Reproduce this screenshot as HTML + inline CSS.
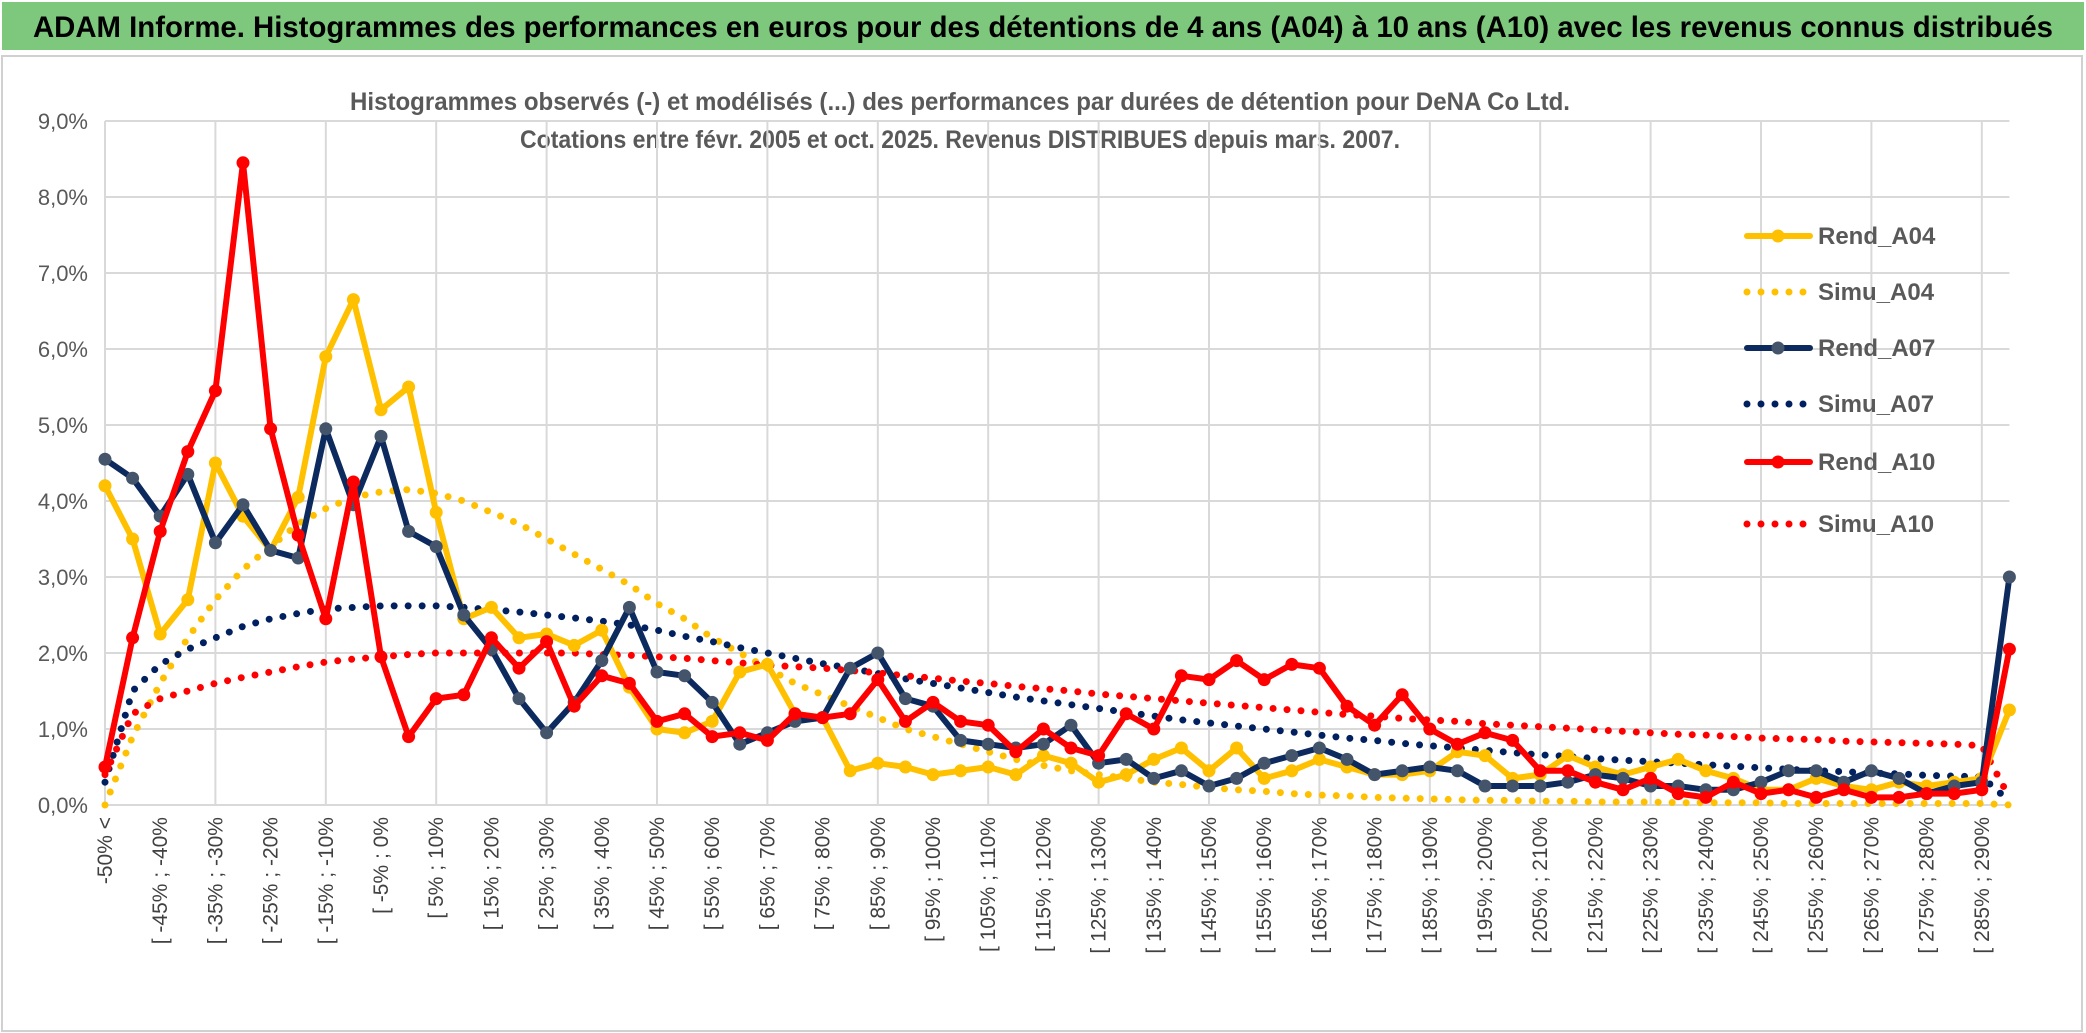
<!DOCTYPE html>
<html><head><meta charset="utf-8"><style>
html,body{margin:0;padding:0;background:#fff;}
svg{display:block;font-family:"Liberation Sans",sans-serif;}
</style></head><body>
<svg id="chart" width="2086" height="1033" viewBox="0 0 2086 1033" xmlns="http://www.w3.org/2000/svg">
<rect x="0" y="0" width="2086" height="1033" fill="#fff"/>
<rect x="2" y="2" width="2082" height="48" fill="#7ec87e"/>
<text x="1043" y="37" text-anchor="middle" font-size="30" font-weight="bold" fill="#000" textLength="2020" lengthAdjust="spacingAndGlyphs">ADAM Informe. Histogrammes des performances en euros pour des détentions de 4 ans (A04) à 10 ans (A10) avec les revenus connus distribués</text>
<rect x="2" y="56" width="2080" height="975" fill="none" stroke="#d0d0d0" stroke-width="2"/>
<text x="960" y="110" text-anchor="middle" font-size="25" font-weight="bold" fill="#595959" textLength="1220" lengthAdjust="spacingAndGlyphs">Histogrammes observés (-) et modélisés (...) des performances par durées de détention pour DeNA Co Ltd.</text>
<text x="960" y="148" text-anchor="middle" font-size="25" font-weight="bold" fill="#595959" textLength="880" lengthAdjust="spacingAndGlyphs">Cotations entre févr. 2005 et oct. 2025. Revenus DISTRIBUES depuis mars. 2007.</text>
<g id="grid"></g><g id="yticks"></g><g id="xticks"></g><g id="series"></g><g id="legend"></g>
</svg>
<script>
const categories = ["-50% <"];
for (let k = 1; k < 70; k++) categories.push("[ " + (-55 + 5*k) + "% ; " + (-50 + 5*k) + "%");
const yTickLabels = ["0,0%","1,0%","2,0%","3,0%","4,0%","5,0%","6,0%","7,0%","8,0%","9,0%"];
const rendA04 = [4.2,3.5,2.25,2.7,4.5,3.8,3.35,4.05,5.9,6.65,5.2,5.5,3.85,2.45,2.6,2.2,2.25,2.1,2.3,1.55,1.0,0.95,1.1,1.75,1.85,1.2,1.15,0.45,0.55,0.5,0.4,0.45,0.5,0.4,0.65,0.55,0.3,0.4,0.6,0.75,0.45,0.75,0.35,0.45,0.6,0.5,0.4,0.4,0.45,0.7,0.65,0.35,0.4,0.65,0.5,0.4,0.5,0.6,0.45,0.35,0.2,0.2,0.35,0.25,0.2,0.3,0.25,0.3,0.35,1.25];
const simuA04 = [0.0,0.9,1.6,2.2,2.7,3.1,3.4,3.7,3.9,4.05,4.12,4.15,4.1,4.0,3.85,3.7,3.5,3.3,3.1,2.9,2.65,2.45,2.2,2.0,1.8,1.6,1.45,1.3,1.15,1.0,0.9,0.8,0.7,0.6,0.52,0.45,0.4,0.35,0.3,0.27,0.23,0.2,0.18,0.15,0.13,0.12,0.1,0.09,0.08,0.07,0.06,0.06,0.05,0.05,0.04,0.04,0.04,0.03,0.03,0.03,0.03,0.02,0.02,0.02,0.02,0.02,0.02,0.02,0.02,0.0];
const rendA07 = [4.55,4.3,3.8,4.35,3.45,3.95,3.35,3.25,4.95,3.95,4.85,3.6,3.4,2.5,2.05,1.4,0.95,1.35,1.9,2.6,1.75,1.7,1.35,0.8,0.95,1.1,1.15,1.8,2.0,1.4,1.3,0.85,0.8,0.75,0.8,1.05,0.55,0.6,0.35,0.45,0.25,0.35,0.55,0.65,0.75,0.6,0.4,0.45,0.5,0.45,0.25,0.25,0.25,0.3,0.4,0.35,0.25,0.25,0.2,0.2,0.3,0.45,0.45,0.3,0.45,0.35,0.15,0.25,0.3,3.0];
const simuA07 = [0.3,1.5,1.85,2.05,2.2,2.35,2.45,2.52,2.58,2.6,2.62,2.62,2.62,2.6,2.57,2.54,2.5,2.46,2.42,2.37,2.3,2.22,2.15,2.07,2.0,1.93,1.86,1.8,1.73,1.66,1.6,1.54,1.48,1.42,1.37,1.32,1.27,1.22,1.17,1.12,1.08,1.04,1.0,0.96,0.92,0.88,0.85,0.81,0.78,0.75,0.72,0.69,0.66,0.64,0.61,0.59,0.57,0.55,0.53,0.51,0.49,0.47,0.45,0.44,0.42,0.41,0.39,0.38,0.37,0.05];
const rendA10 = [0.5,2.2,3.6,4.65,5.45,8.45,4.95,3.55,2.45,4.25,1.95,0.9,1.4,1.45,2.2,1.8,2.15,1.3,1.7,1.6,1.1,1.2,0.9,0.95,0.85,1.2,1.15,1.2,1.65,1.1,1.35,1.1,1.05,0.7,1.0,0.75,0.65,1.2,1.0,1.7,1.65,1.9,1.65,1.85,1.8,1.3,1.05,1.45,1.0,0.8,0.95,0.85,0.45,0.45,0.3,0.2,0.35,0.15,0.1,0.3,0.15,0.2,0.1,0.2,0.1,0.1,0.15,0.15,0.2,2.05];
const simuA10 = [0.4,1.2,1.4,1.5,1.6,1.68,1.75,1.82,1.88,1.92,1.95,1.98,2.0,2.0,2.0,2.0,2.0,2.0,1.98,1.97,1.95,1.93,1.9,1.87,1.84,1.82,1.8,1.77,1.74,1.7,1.67,1.63,1.6,1.56,1.53,1.5,1.46,1.43,1.4,1.37,1.34,1.31,1.28,1.25,1.22,1.19,1.17,1.14,1.12,1.1,1.07,1.05,1.03,1.01,0.99,0.97,0.95,0.93,0.92,0.9,0.88,0.87,0.86,0.84,0.83,0.82,0.81,0.8,0.78,0.1];

const NS = "http://www.w3.org/2000/svg";
const X0 = 105, STEP = 27.6, Y0 = 805, YSTEP = 76;
const xAt = i => X0 + i * STEP;
const yAt = v => Y0 - v * YSTEP;
const XMAX = xAt(categories.length - 1);
function mk(tag, parent, attrs) { const e = document.createElementNS(NS, tag); for (const k in attrs) e.setAttribute(k, attrs[k]); parent.appendChild(e); return e; }

const grid = document.getElementById("grid");
yTickLabels.forEach((t, i) => {
  const l = mk("line", grid, {x1: X0, x2: XMAX, y1: yAt(i), y2: yAt(i), stroke: "#d9d9d9", "stroke-width": 2});
  
  
  const tx = mk("text", document.getElementById("yticks"), {x: 88, y: yAt(i) + 8, "text-anchor": "end", "font-size": 22, fill: "#595959"});
  tx.textContent = t;
  
  
});
for (let i = 0; i < categories.length; i += 4) {
  const l = mk("line", grid, {x1: xAt(i), x2: xAt(i), y1: yAt(9), y2: Y0, stroke: "#d9d9d9", "stroke-width": 2});
  
  
}
const xt = document.getElementById("xticks");
categories.forEach((c, i) => {
  if (i % 2) return;
  const x = xAt(i) + 7, y = Y0 + 12;
  const tx = mk("text", xt, {x: x, y: y, "text-anchor": "end", "font-size": 21, fill: "#404040", transform: `rotate(-90 ${x} ${y})`});
  tx.textContent = c;
  
  
});

const seriesDefs = [
  {name: "Simu_A04", data: simuA04, color: "#FFC000", dotted: true},
  {name: "Simu_A07", data: simuA07, color: "#002060", dotted: true},
  {name: "Simu_A10", data: simuA10, color: "#FF0000", dotted: true},
  {name: "Rend_A04", data: rendA04, color: "#FFC000", marker: "#FFC000"},
  {name: "Rend_A07", data: rendA07, color: "#0C2A5E", marker: "#44546A"},
  {name: "Rend_A10", data: rendA10, color: "#FF0000", marker: "#FF0000"}
];
const sg = document.getElementById("series");
seriesDefs.forEach(s => {
  const g = mk("g", sg, {});
  
  
  const pts = s.data.map((v, i) => xAt(i).toFixed(1) + "," + yAt(v).toFixed(1)).join(" ");
  const pl = mk("polyline", g, {points: pts, fill: "none", stroke: s.color, "stroke-width": s.dotted ? 7 : 6, "stroke-linejoin": "round", "stroke-linecap": "round"});
  if (s.dotted) pl.setAttribute("stroke-dasharray", "0 14");
  
  
  if (!s.dotted) s.data.forEach((v, i) => {
    const c = mk("circle", g, {cx: xAt(i), cy: yAt(v), r: 6.5, fill: s.marker});
    
    
  });
});

const legendItems = [
  {name: "Rend_A04", color: "#FFC000", dotted: false, marker: "#FFC000"},
  {name: "Simu_A04", color: "#FFC000", dotted: true},
  {name: "Rend_A07", color: "#0C2A5E", dotted: false, marker: "#44546A"},
  {name: "Simu_A07", color: "#002060", dotted: true},
  {name: "Rend_A10", color: "#FF0000", dotted: false, marker: "#FF0000"},
  {name: "Simu_A10", color: "#FF0000", dotted: true}
];
const lg = document.getElementById("legend");
const legendY = [236, 292, 348, 404, 462, 524];
legendItems.forEach((it, i) => {
  const g = mk("g", lg, {});
  
  
  const y = legendY[i];
  const l = mk("line", g, {x1: 1747, x2: 1810, y1: y, y2: y, stroke: it.color, "stroke-width": it.dotted ? 7 : 6, "stroke-linecap": "round"});
  if (it.dotted) l.setAttribute("stroke-dasharray", "0 14");
  if (!it.dotted) mk("circle", g, {cx: 1778, cy: y, r: 6.5, fill: it.marker});
  const t = mk("text", g, {x: 1818, y: y + 8, "font-size": 24, "font-weight": "bold", fill: "#595959"});
  t.textContent = it.name;
});
</script>
</body></html>
